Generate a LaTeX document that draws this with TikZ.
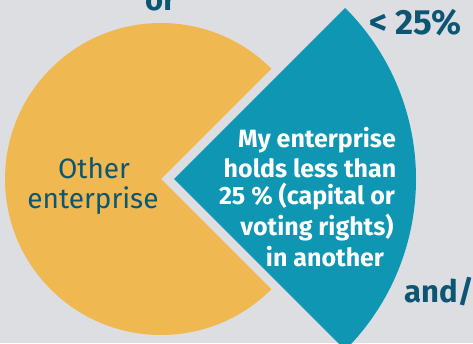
\documentclass[tikz,border=0pt]{standalone}
\usepackage{fontspec}
\setmainfont{Fira Sans}
\definecolor{bg}{HTML}{DDDEE2}
\definecolor{orng}{HTML}{F0B851}
\definecolor{teal}{HTML}{0E96B3}
\definecolor{navy}{HTML}{0D5673}
\tikzset{
  label/.style={inner sep=0pt, anchor=base, text=navy},
  white/.style={inner sep=0pt, anchor=base, text=white, font=\bfseries\fontsize{25}{30}\selectfont},
  big/.style={inner sep=0pt, anchor=base west, text=navy, font=\bfseries\fontsize{31}{36}\selectfont}
}
\begin{document}
\begin{tikzpicture}[x=1pt,y=1pt]
\useasboundingbox (0,0) rectangle (473,343);
\clip (0,0) rectangle (473,343);
\fill[bg] (0,0) rectangle (473,343);
% orange pie
\coordinate (oc) at (161,164);
\fill[orng] (oc) -- ++(45:156) arc (45:315:156) -- cycle;
% teal slice
\coordinate (tc) at (174,164);
\fill[teal] (tc) -- ++(-45:242) arc (-45:45:242) -- cycle;
% texts
\node[label, font=\fontsize{28}{32}\selectfont] (oth) at (94,165) {Other};
\node[label, font=\fontsize{28}{32}\selectfont] (ent) at (93,135) {enterprise};
\node[white] (w1) at (317,196) {My enterprise};
\node[white] (w2) at (310,166) {holds less than};
\node[white] (w3) at (307,139) {25 \% (capital or};
\node[white] (w4) at (317,108) {voting rights)};
\node[white] (w5) at (325,77) {in another};
\node[big, font=\bfseries\fontsize{35}{40}\selectfont] (lt) at (369,308) {< 25\%};
\node[big] (and) at (404,41) {and/};
\node[big] (or) at (145,332) {or};
\end{tikzpicture}
\end{document}
